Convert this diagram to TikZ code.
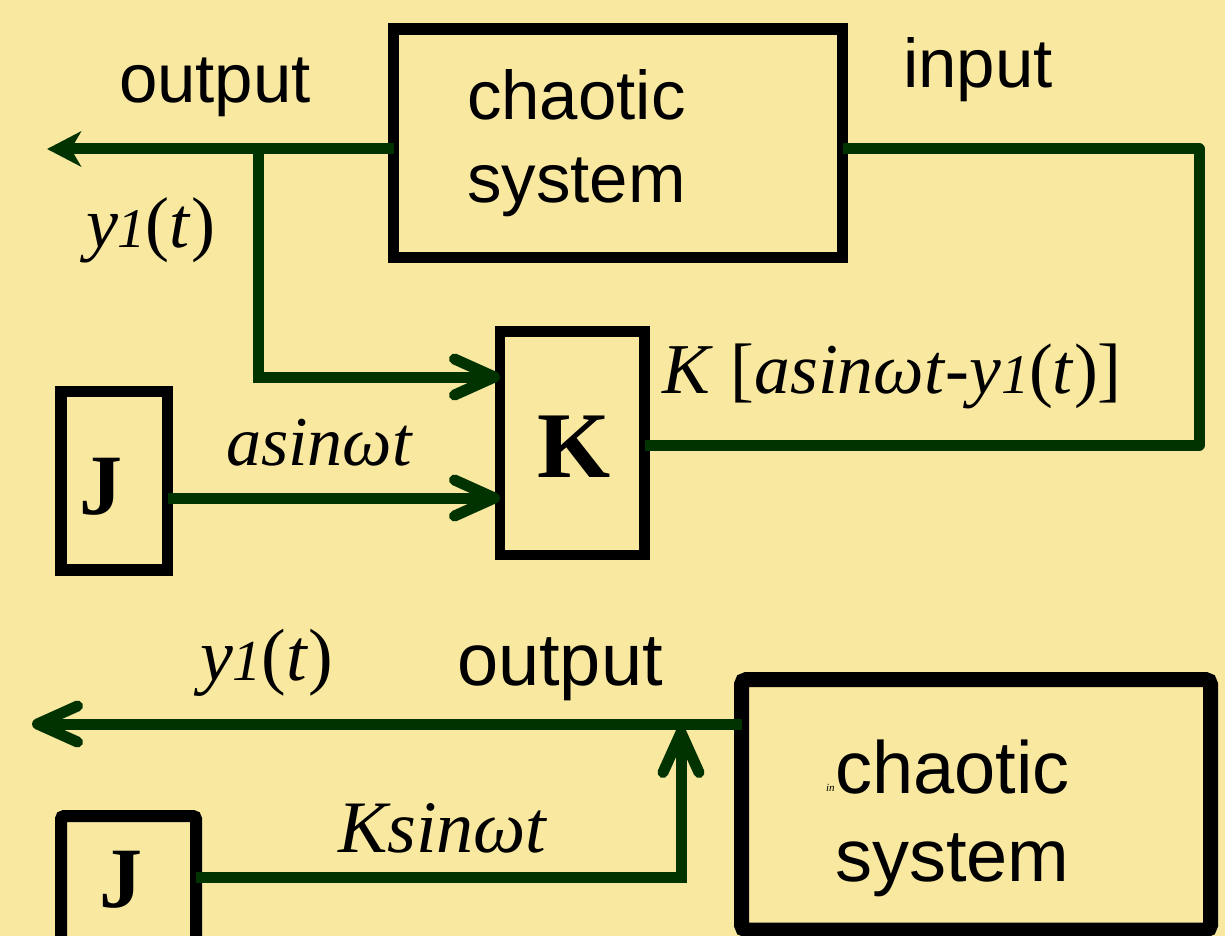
\documentclass[tikz,border=0pt]{standalone}
\usepackage{fontspec}
\setmainfont{Liberation Serif}
\newfontfamily\arial{Liberation Sans}
\usetikzlibrary{arrows.meta}
\definecolor{bg}{HTML}{F9E8A0}
\definecolor{gr}{HTML}{003300}
\newcommand\fs[1]{\fontsize{#1}{#1}\selectfont}
\newcommand\yt[1]{\textit{y}{\itshape\fs{#1}1}(\textit{t})}
\begin{document}
\begin{tikzpicture}[x=1pt,y=-1pt,
  box/.style={draw=black, fill=none, outer sep=0pt, inner sep=0pt},
  txt/.style={inner sep=0pt, outer sep=0pt, anchor=base west},
  gline/.style={draw=gr, line width=11pt},
  openarr/.style={gline, -{Straight Barb[length=40pt,width=36pt,round]}},
  fillarr/.style={gline, -{Stealth[length=34pt,width=35pt,inset=10pt]}},
]
\fill[bg] (0,0) rectangle (1225,936);
\useasboundingbox (0,0) rectangle (1225,936);
\clip (0,0) rectangle (1225,936);

% boxes
\node[box, line width=11.5pt, minimum width=449pt, minimum height=228.5pt] (cs1) at (618,143.25) {};
\node[box, line width=10.5pt, minimum width=144.5pt, minimum height=223.5pt] (K) at (572.25,443.25) {};
\node[box, line width=11.5pt, minimum width=106.5pt, minimum height=178.5pt] (J1) at (114.25,480.75) {};
\node[box, line width=12pt, rounded corners=3pt, minimum width=135pt, minimum height=150pt] (J2) at (128.5,891) {};
\node[box, line width=15pt, rounded corners=5pt, minimum width=469pt, minimum height=250.5pt] (cs2) at (976,804.75) {};

% texts
\node[txt, font=\arial\fs{69}] (out1) at (119,103) {output};
\node[txt, font=\arial\fs{69}] (in1) at (903,88) {input};
\node[txt, font=\arial\fs{69}] (c1a) at (467,120) {chaotic};
\node[txt, font=\arial\fs{69}] (c1b) at (467,203) {system};
\node[txt, font=\fs{72}] (y1a) at (86,247) {\yt{56}};
\node[txt, font=\fs{70}\itshape] (lab1) at (226,465) {asinωt};
\node[txt, font=\fs{71.5}] (lab2) at (662,393) {\textit{K} [\textit{asinωt}-\yt{56}]};
\node[txt, font=\fs{94}\bfseries] (Kt) at (537,477) {K};
\node[txt, font=\fs{86}\bfseries] (J1t) at (79,514) {J};
\node[txt, font=\fs{86}\bfseries] (J2t) at (99,907) {J};
\node[txt, font=\fs{74}] (y1b) at (200,680) {\yt{58}};
\node[txt, font=\arial\fs{74}] (out2) at (457,685) {output};
\node[txt, font=\fs{74}\itshape] (lab3) at (338,852) {Ksinωt};
\node[txt, font=\fs{11}\itshape] (tin) at (826,791) {in};
\node[txt, font=\arial\fs{74}] (c2a) at (835,793) {chaotic};
\node[txt, font=\arial\fs{74}] (c2b) at (835,881) {system};

% connectors
\coordinate (o1) at (47,149);
\coordinate (br) at (258,149);
\coordinate (rc) at (1199,149);
\coordinate (o2) at (32,724);
\coordinate (jn) at (681,727);
\draw[fillarr] ([yshift=-5.75pt]cs1.west) -- (o1);
\draw[openarr] (br) |- ([yshift=66.25pt]K.west);
\draw[openarr] ([yshift=-17.25pt]J1.east) -- ([yshift=-54.75pt]K.west);
\draw[gline, line join=round] ([yshift=-1.75pt]K.east) -| (rc) -- ([yshift=-5.75pt]cs1.east);
\draw[openarr] ([yshift=80.75pt]cs2.west) -- (o2);
\draw[openarr] ([yshift=14pt]J2.east) -| (jn);
\end{tikzpicture}
\end{document}
